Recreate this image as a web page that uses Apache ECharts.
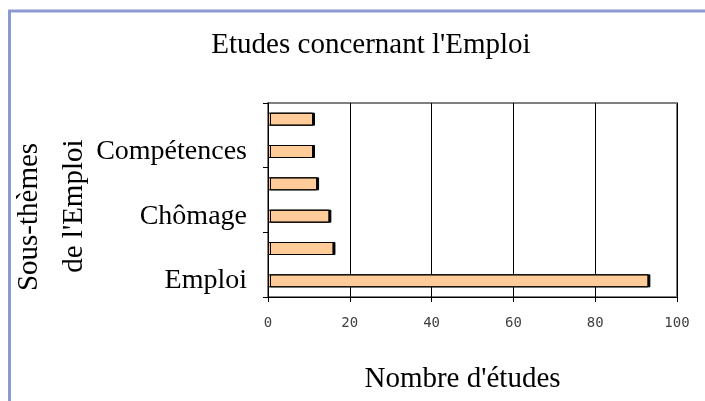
<!DOCTYPE html>
<html>
<head>
<meta charset="utf-8">
<script src="https://cdn.jsdelivr.net/npm/echarts@6/dist/echarts.min.js"></script>
<style>
  html, body { margin: 0; padding: 0; background: #fff; }
  #chart { width: 705px; height: 401px; }
</style>
</head>
<body>
<div id="chart"></div>
<script>
// sous-thèmes, du bas vers le haut (un libellé sur deux est masqué comme dans l'original)
var categories = ['Emploi', 'Sous-thème 2', 'Chômage', 'Sous-thème 4', 'Compétences', 'Sous-thème 6'];
var nbEtudes = [93, 16, 15, 12, 11, 11];
var xTicks = { min: 0, max: 100, interval: 20 };

var chart = echarts.init(document.getElementById('chart'));

var serif = '"Liberation Serif", "Times New Roman", serif';

var option = {
    animation: false,
    backgroundColor: '#fff',
    title: {
        text: "Etudes concernant l'Emploi",
        left: 366,
        textAlign: 'center',
        top: 26,
        textStyle: {
            fontFamily: serif,
            fontWeight: 'normal',
            fontSize: 29,
            color: '#000'
        }
    },
    grid: {
        left: 268,
        right: 28,
        top: 103,
        bottom: 104,
        outerBoundsMode: 'none',
        containLabel: false,
        show: true,
        borderColor: '#808080',
        borderWidth: 2
    },
    xAxis: {
        type: 'value',
        min: xTicks.min,
        max: xTicks.max,
        interval: xTicks.interval,
        name: "Nombre d'études",
        nameLocation: 'middle',
        nameGap: 68,
        nameMoveOverlap: false,
        nameTextStyle: {
            fontFamily: serif,
            fontSize: 29,
            color: '#000',
            padding: [0, 20, 0, 0]
        },
        axisLine: { show: true, lineStyle: { color: '#000', width: 1 } },
        axisTick: { show: true, length: 5, lineStyle: { color: '#000' } },
        splitLine: { show: true, lineStyle: { color: '#000', width: 1 } },
        axisLabel: {
            margin: 19,
            fontFamily: '"DejaVu Sans Mono", monospace',
            fontSize: 14,
            color: '#404040'
        }
    },
    yAxis: {
        type: 'category',
        data: categories,
        name: "Sous-thèmes\n   de l'Emploi",
        nameLocation: 'middle',
        nameRotate: 90,
        nameGap: 171,
        nameMoveOverlap: false,
        nameTextStyle: {
            fontFamily: serif,
            fontSize: 29,
            lineHeight: 45,
            color: '#000',
            padding: [0, 34, 0, 0]
        },
        axisLine: { show: true, lineStyle: { color: '#000', width: 1 } },
        axisTick: { show: true, length: 5, lineStyle: { color: '#000' } },
        splitLine: { show: false },
        axisLabel: {
            interval: 1,
            margin: 21,
            fontFamily: serif,
            fontSize: 28,
            color: '#000'
        }
    },
    series: [{
        type: 'bar',
        data: nbEtudes,
        barWidth: 13,
        itemStyle: {
            color: '#FFCC99',
            borderColor: '#000',
            borderWidth: 1,
            shadowColor: '#000',
            shadowOffsetX: 2,
            shadowBlur: 0
        }
    }],
    graphic: [{
        type: 'polyline',
        shape: { points: [[9.5, 401], [9.5, 11], [705, 11]] },
        style: { stroke: '#8F9AD2', lineWidth: 3, fill: null },
        silent: true
    }]
};

chart.setOption(option);
window.addEventListener('resize', function () {
    chart.resize();
});
</script>
</body>
</html>
